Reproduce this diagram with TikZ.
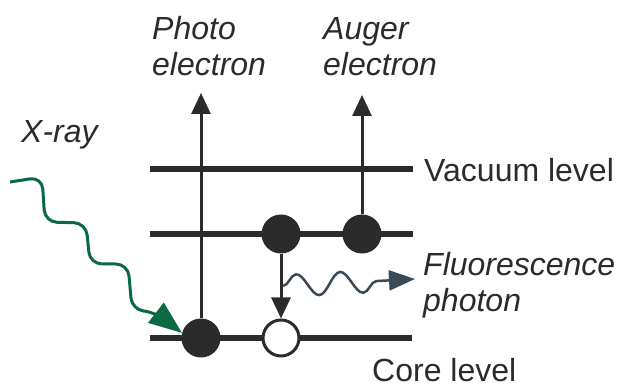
\documentclass[tikz,border=0pt]{standalone}
\usepackage{fontspec}
\setmainfont{Liberation Sans}
\usetikzlibrary{arrows.meta, decorations.pathmorphing}
\definecolor{ink}{HTML}{2B2B2B}
\definecolor{xgreen}{HTML}{0B6A43}
\definecolor{slate}{HTML}{3B4A56}

\begin{document}
\begin{tikzpicture}[
  x=1pt, y=-1pt,
  lvl/.style={line width=6.5pt, ink},
  elec/.style={circle, fill=ink, minimum size=39pt, inner sep=0pt},
  hole/.style={circle, draw=ink, line width=3pt, fill=white, minimum size=36pt, inner sep=0pt},
  arr/.style={-{Triangle[length=21pt, width=19pt]}, line width=3pt, ink},
  lbl/.style={font=\fontsize{32}{36}\selectfont, text=ink, inner sep=0pt, align=left},
  xray/.style={-{Triangle[length=33pt, width=25pt]}, line width=3pt, xgreen, rounded corners=12pt},
  fluo/.style={-{Triangle[length=26pt, width=20pt]}, line width=2.5pt, slate,
    decorate, decoration={snake, amplitude=11pt, segment length=44pt, post length=26pt}},
]
\useasboundingbox (0,0) rectangle (619,387);

% energy levels
\coordinate (vacL) at (150,169);  \coordinate (vacR) at (413,169);
\coordinate (midL) at (150,234);  \coordinate (midR) at (413,234);
\coordinate (coreL) at (150,338); \coordinate (coreR) at (412,338);
\draw[lvl] (vacL) -- (vacR);
\draw[lvl] (midL) -- (midR);
\draw[lvl] (coreL) -- (coreR);

% electrons and hole
\node[elec] (photo) at (201,338) {};
\node[elec] (drop) at (281,234) {};
\node[elec] (auger) at (362,234) {};
\node[hole] (vac) at (281,338) {};

% escape ends
\coordinate (photoTop) at (201,93);
\coordinate (augerTop) at (362,95);
\coordinate (xsrc) at (10,182);
\coordinate (fsrc) at (283,286);
\coordinate (fend) at (415,279);

\draw[arr] (photo.north) -- (photoTop);
\draw[arr] (auger.north) -- (augerTop);
\draw[arr] (drop.south) -- (vac.north);

\draw[xray] (xsrc) -- (42,177) -- (45,222) -- (86,223) -- (90,264) -- (128,264) -- (132,310) -- (155,312) -- (photo.165);
\draw[fluo] (fsrc) -- (fend);

% labels
\node[lbl, anchor=base west] (lphoto) at (152,76) {\itshape Photo\\\itshape electron};
\node[lbl, anchor=base west] (lauger) at (323,76) {\itshape Auger\\\itshape electron};
\node[lbl, anchor=base west] (lxray) at (21,143) {\itshape X-ray};
\node[lbl, anchor=base west] (lvac) at (424,182) {Vacuum level};
\node[lbl, anchor=base west] (lfluo) at (423,312) {\itshape Fluorescence\\\itshape photon};
\node[lbl, anchor=base west] (lcore) at (372,382) {Core level};
\end{tikzpicture}
\end{document}
